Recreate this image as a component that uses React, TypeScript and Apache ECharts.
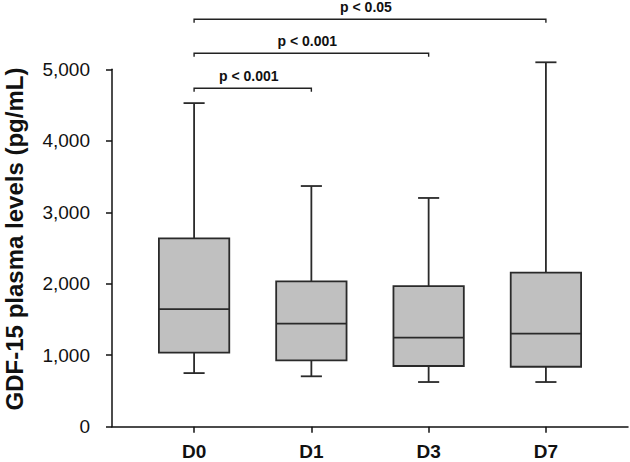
import React, { useEffect, useRef } from "react";
import * as echarts from "echarts";

const categories = ["D0", "D1", "D3", "D7"];
// [low whisker, Q1, median, Q3, high whisker]
const lowWhisker = [750, 705, 625, 625];
const q1 = [1035, 929, 849, 839];
const median = [1646, 1441, 1245, 1301];
const q3 = [2636, 2034, 1968, 2155];
const highWhisker = [4527, 3367, 3200, 5098];

const yTicks = [0, 1000, 2000, 3000, 4000, 5000];

// significance brackets: from category index, to category index, level (pg/mL), label
const bracketFrom = [0, 0, 0];
const bracketTo = [1, 2, 3];
const bracketLevel = [4734, 5224, 5700];
const bracketLabels = ["p < 0.001", "p < 0.001", "p < 0.05"];

const FONT = "'Liberation Sans', Arial, sans-serif";

export default function App() {
  const ref = useRef<HTMLDivElement>(null);
  useEffect(() => {
    if (!ref.current) return;
    const chart = echarts.init(ref.current, null, { renderer: "svg" });
    const boxData = categories.map((_, i) => [
      i,
      lowWhisker[i],
      q1[i],
      median[i],
      q3[i],
      highWhisker[i],
    ]);
    const bracketData = bracketFrom.map((f, i) => [f, bracketTo[i], bracketLevel[i], i]);
    chart.setOption({
      animation: false,
      grid: {
        left: 112,
        right: 2,
        top: 69.3,
        bottom: 35.3,
        containLabel: false,
        outerBoundsMode: "none",
      },
      xAxis: {
        type: "value",
        min: -0.7,
        max: 3.7,
        axisLine: { show: true, onZero: false, lineStyle: { color: "#111", width: 1.5 } },
        axisTick: {
          show: true,
          customValues: [0, 1, 2, 3],
          length: 6,
          lineStyle: { color: "#111", width: 1.5 },
        },
        axisLabel: {
          customValues: [0, 1, 2, 3],
          formatter: (v: number) => categories[Math.round(v)],
          fontSize: 19,
          fontWeight: "bold",
          fontFamily: FONT,
          color: "#111",
          margin: 15,
        },
        splitLine: { show: false },
      },
      yAxis: {
        type: "value",
        min: 0,
        max: 5000,
        interval: 1000,
        axisLine: { show: true, onZero: false, lineStyle: { color: "#111", width: 1.5 } },
        axisTick: { show: true, length: 6, lineStyle: { color: "#111", width: 1.5 } },
        axisLabel: {
          formatter: (v: number) => (yTicks.includes(v) ? v.toLocaleString("en-US") : ""),
          fontSize: 19,
          fontFamily: FONT,
          color: "#111",
          margin: 22,
        },
        splitLine: { show: false },
        name: "GDF-15 plasma levels (pg/mL)",
        nameLocation: "middle",
        nameGap: 86,
        nameTextStyle: {
          fontSize: 24,
          fontWeight: "bold",
          fontFamily: FONT,
          color: "#111",
          padding: [0, 0, 0, 18],
        },
      },
      series: [
        {
          type: "custom",
          clip: false,
          data: boxData,
          encode: { x: 0, y: [1, 2, 3, 4, 5] },
          renderItem: (params: any, api: any) => {
            const x = api.value(0);
            const band = api.size([1, 0])[0];
            const boxW = band * 0.6;
            const capW = band * 0.18;
            const pLow = api.coord([x, api.value(1)]);
            const pQ1 = api.coord([x, api.value(2)]);
            const pMed = api.coord([x, api.value(3)]);
            const pQ3 = api.coord([x, api.value(4)]);
            const pHigh = api.coord([x, api.value(5)]);
            const cx = pLow[0];
            const lineStyle = { stroke: "#2a2a2a", lineWidth: 1.8, fill: null };
            return {
              type: "group",
              children: [
                { type: "line", shape: { x1: cx, y1: pHigh[1], x2: cx, y2: pQ3[1] }, style: lineStyle },
                { type: "line", shape: { x1: cx, y1: pLow[1], x2: cx, y2: pQ1[1] }, style: lineStyle },
                { type: "line", shape: { x1: cx - capW / 2, y1: pHigh[1], x2: cx + capW / 2, y2: pHigh[1] }, style: lineStyle },
                { type: "line", shape: { x1: cx - capW / 2, y1: pLow[1], x2: cx + capW / 2, y2: pLow[1] }, style: lineStyle },
                {
                  type: "rect",
                  shape: { x: cx - boxW / 2, y: pQ3[1], width: boxW, height: pQ1[1] - pQ3[1] },
                  style: { fill: "#c0c0c0", stroke: "#2a2a2a", lineWidth: 1.8 },
                },
                { type: "line", shape: { x1: cx - boxW / 2, y1: pMed[1], x2: cx + boxW / 2, y2: pMed[1] }, style: lineStyle },
              ],
            };
          },
        },
        {
          type: "custom",
          clip: false,
          data: bracketData,
          encode: { x: [0, 1], y: 2 },
          renderItem: (params: any, api: any) => {
            const a = api.coord([api.value(0), api.value(2)]);
            const b = api.coord([api.value(1), api.value(2)]);
            const idx = api.value(3);
            return {
              type: "group",
              children: [
                {
                  type: "polyline",
                  shape: { points: [[a[0], a[1] + 3.5], [a[0], a[1]], [b[0], b[1]], [b[0], b[1] + 3.5]] },
                  style: { stroke: "#222", lineWidth: 1.4, fill: null },
                },
                {
                  type: "text",
                  style: {
                    text: bracketLabels[idx],
                    x: (a[0] + b[0]) / 2 - 4,
                    y: a[1] - 5,
                    align: "center",
                    verticalAlign: "bottom",
                    fontSize: 14,
                    fontWeight: "bold",
                    fontFamily: FONT,
                    fill: "#111",
                  },
                },
              ],
            };
          },
        },
      ],
    });
    return () => chart.dispose();
  }, []);
  return <div ref={ref} style={{ width: 630, height: 462, position: "absolute", left: 0, top: 0 }} />;
}
